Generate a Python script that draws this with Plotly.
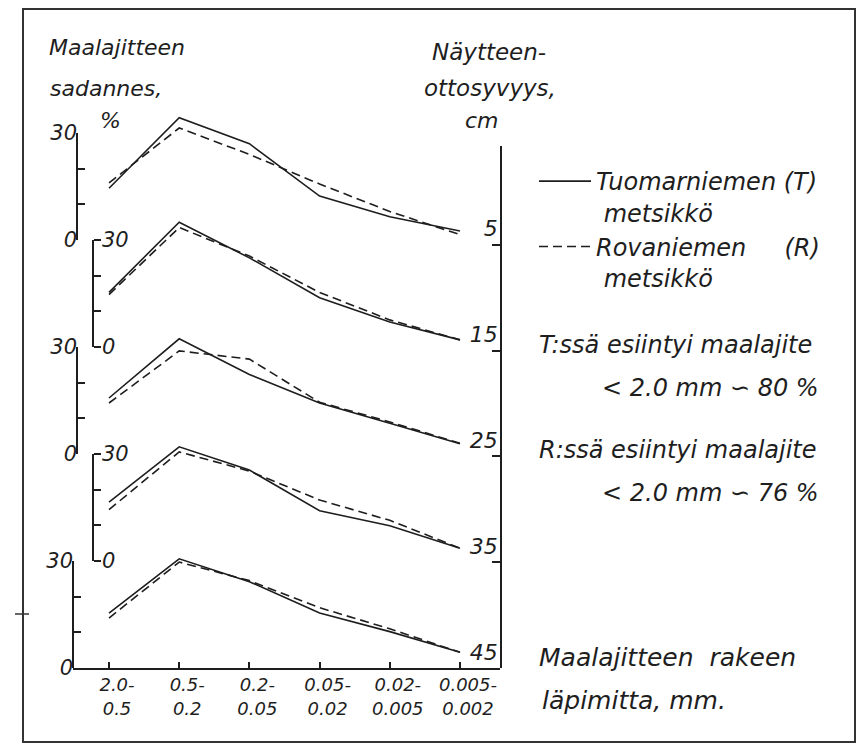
import plotly.graph_objects as go

# ---- data ----
categories = ["2.0-<br>0.5", "0.5-<br>0.2", "0.2-<br>0.05", "0.05-<br>0.02", "0.02-<br>0.005", "0.005-<br>0.002"]
depths = [5, 15, 25, 35, 45]  # sampling depth, cm (one panel per depth, top to bottom)

# Tuomarniemen (T) metsikkö - percentage of each fraction, per depth
t_5 = [14.5, 34.3, 27.0, 12.3, 6.5, 2.5]
t_15 = [15.3, 35.0, 25.0, 13.8, 7.0, 2.0]
t_25 = [15.7, 32.3, 22.3, 14.3, 8.6, 2.9]
t_35 = [16.5, 32.0, 25.5, 14.1, 9.9, 3.6]
t_45 = [15.4, 30.6, 24.2, 15.4, 10.2, 4.4]

# Rovaniemen (R) metsikkö
r_5 = [16.0, 31.4, 24.0, 15.7, 8.0, 1.5]
r_15 = [14.7, 33.5, 25.5, 15.3, 7.6, 2.0]
r_25 = [14.3, 28.9, 26.6, 14.5, 9.0, 3.0]
r_35 = [14.4, 30.6, 25.2, 17.1, 11.4, 3.6]
r_45 = [14.0, 29.7, 24.5, 16.9, 11.0, 4.4]

t_series = [t_5, t_15, t_25, t_35, t_45]
r_series = [r_5, r_15, r_25, r_35, r_45]

pct_ticks = [0, 10, 20, 30]
pct_ticktext = ["0", "", "", "30"]

# ---- style ----
INK = "#1e1e1e"
FONT = "'DejaVu Sans', sans-serif"
W, H = 859, 744
L, R, T, B = 73, 359, 96, 76
PW, PH = W - L - R, H - T - B
PANEL_PX = 107
BASE0 = H - B  # baseline of bottom panel in px


def px_x(x):
    return (x - L) / PW


def px_y(y):
    return (H - B - y) / PH


def fnt(size):
    return dict(family=FONT, size=size, color=INK, style="italic", weight=200)


xi = list(range(len(categories)))
fig = go.Figure()

layout_axes = {}
for k in range(5):  # k = 0 top panel (5 cm) ... 4 bottom (45 cm)
    base = BASE0 - PANEL_PX * (4 - k)
    top = base - PANEL_PX
    ext_top = base - PANEL_PX * 40 / 30
    vis_n = k + 1
    dat_n = k + 6
    vis_key, dat_key = "yaxis%d" % vis_n, "yaxis%d" % dat_n
    vis_ref, dat_ref = "y%d" % vis_n, "y%d" % dat_n
    left = (k % 2 == 0)
    ax = dict(domain=[px_y(base), px_y(top)], range=[0, 30], anchor="free",
              tickvals=pct_ticks, ticktext=pct_ticktext, showgrid=False, zeroline=False,
              showline=True, linecolor=INK, linewidth=1.6, tickcolor=INK, tickwidth=1.6,
              ticklen=7, tickfont=fnt(21))
    if left:
        ax.update(side="left", ticks="inside", position=px_x(77) if k < 4 else 0,
                  ticklabelstandoff=-5)
    else:
        ax.update(side="right", ticks="outside", position=px_x(93), ticklabelstandoff=-3)
    layout_axes[vis_key] = ax
    layout_axes[dat_key] = dict(domain=[px_y(base), px_y(ext_top)], range=[0, 40],
                                anchor="free", position=0, visible=False,
                                showgrid=False, zeroline=False)
    # invisible anchor trace so the visible scale is drawn
    fig.add_trace(go.Scatter(x=[xi[0]] * len(pct_ticks), y=pct_ticks, xaxis="x", yaxis=vis_ref,
                             mode="markers", marker=dict(opacity=0), showlegend=False,
                             hoverinfo="skip"))
    fig.add_trace(go.Scatter(
        x=xi, y=t_series[k], xaxis="x", yaxis=dat_ref, mode="lines",
        line=dict(color=INK, width=1.6),
        name="Tuomarniemen (T)<br>\u00a0metsikkö", legendgroup="T",
        showlegend=(k == 0), hoverinfo="skip"))
    fig.add_trace(go.Scatter(
        x=xi, y=r_series[k], xaxis="x", yaxis=dat_ref, mode="lines",
        line=dict(color=INK, width=1.6, dash="9px,5px"),
        name="Rovaniemen" + "\u00a0" * 5 + "(R)<br>\u00a0metsikkö", legendgroup="R",
        showlegend=(k == 0), hoverinfo="skip"))

# invisible anchor trace for the sampling-depth axis
fig.add_trace(go.Scatter(x=[xi[-1]] * len(depths), y=depths, xaxis="x", yaxis="y11",
                         mode="markers", marker=dict(opacity=0), showlegend=False,
                         hoverinfo="skip"))

fig.update_layout(**layout_axes)

fig.update_layout(
    width=W, height=H,
    margin=dict(l=L, r=R, t=T, b=B, pad=0),
    paper_bgcolor="white", plot_bgcolor="rgba(0,0,0,0)",
    font=fnt(22),
    xaxis=dict(domain=[0, 1], anchor="y5", range=[-0.513, 5.57], tickvals=xi,
               ticktext=categories, showgrid=False, zeroline=False, showline=True,
               linecolor=INK, linewidth=1.6, ticks="inside", ticklen=6, tickwidth=1.6,
               tickcolor=INK, tickfont=fnt(18), ticklabelshift=8),
    yaxis11=dict(domain=[0, px_y(146)], anchor="x", side="right", range=[45, -4.36],
                 tickvals=depths, ticktext=[str(d) for d in depths], showgrid=False,
                 zeroline=False, showline=True, linecolor=INK, linewidth=1.6,
                 ticks="inside", ticklen=8, tickwidth=1.6, tickcolor=INK,
                 ticklabelposition="inside top", ticklabelstandoff=3, tickfont=fnt(22)),
    legend=dict(x=px_x(534), y=px_y(159), xanchor="left", yanchor="top",
                bgcolor="rgba(0,0,0,0)", font=fnt(24),
                valign="top", itemwidth=52, tracegroupgap=0),
    showlegend=True,
)

texts = [
    ("Maalajitteen", 47, 48, "left", 22),
    ("sadannes,", 48, 88, "left", 22),
    ("%", 110, 120, "center", 22),
    ("Näytteen-", 430, 52, "left", 23),
    ("ottosyvyys,", 422, 88, "left", 23),
    ("cm", 482, 120, "center", 22),
    ("T:ssä esiintyi maalajite", 537, 345, "left", 24),
    ("< 2.0 mm ∽ 80 %", 600, 388, "left", 24),
    ("R:ssä esiintyi maalajite", 537, 450, "left", 24),
    ("< 2.0 mm ∽ 76 %", 600, 493, "left", 24),
    ("Maalajitteen\u00a0 rakeen", 537, 657, "left", 25),
    ("läpimitta, mm.", 540, 700, "left", 25),
]
for txt, x, y, anc, sz in texts:
    fig.add_annotation(text=txt, x=px_x(x), y=px_y(y), xref="paper", yref="paper",
                       xanchor=anc, yanchor="middle", showarrow=False, font=fnt(sz))

# frame
fig.add_shape(type="rect", xref="paper", yref="paper",
              x0=px_x(23), x1=px_x(855), y0=px_y(742), y1=px_y(9),
              line=dict(color="#333", width=2))
fig.add_shape(type="line", xref="paper", yref="paper",
              x0=px_x(15), x1=px_x(29), y0=px_y(614), y1=px_y(614),
              line=dict(color="#333", width=1.5))

fig.write_html("out.html", config={"displayModeBar": False},
               post_script="document.body.style.margin='0';")
